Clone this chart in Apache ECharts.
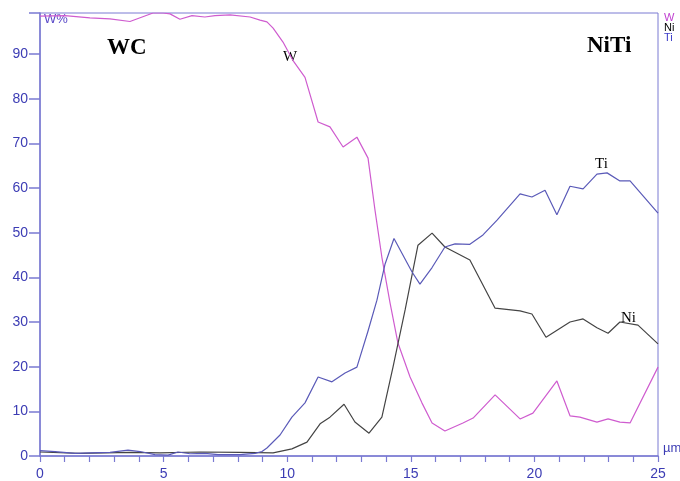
<!DOCTYPE html>
<html>
<head>
<meta charset="utf-8">
<script src="https://cdn.jsdelivr.net/npm/echarts@6/dist/echarts.min.js"></script>
<style>
html,body{margin:0;padding:0;background:#fff;}
#showView{width:680px;height:481px;}
</style>
</head>
<body>
<div id="showView"></div>
<script>
// line scan, position in um / weight %
var wX = [0,1.01,2.02,2.83,3.64,4.57,4.98,5.26,5.66,6.15,6.67,7.08,7.69,8.50,8.90,9.18,9.43,9.83,10.23,10.72,11.25,11.73,12.26,12.82,13.27,13.55,13.83,14.16,14.48,14.97,15.45,15.86,16.38,17.11,17.52,18.41,19.42,19.94,20.91,21.44,21.84,22.53,22.98,23.46,23.87,25];
var wVal = [98.5,98.6,98.1,97.9,97.3,99.2,99.2,99.0,97.8,98.6,98.3,98.6,98.8,98.3,97.6,97.2,95.8,92.7,88.6,84.8,74.8,73.7,69.2,71.4,66.7,55.1,44.5,34.3,25.3,17.7,11.9,7.4,5.6,7.4,8.5,13.7,8.3,9.6,16.8,9.0,8.7,7.6,8.3,7.6,7.4,19.9];
var niX = [0,1.62,3.64,4.85,6.47,8.09,9.43,10.19,10.80,11.33,11.73,12.30,12.74,13.31,13.83,14.28,14.77,15.29,15.86,16.38,17.39,18.41,19.42,19.90,20.47,21.44,21.97,22.53,22.98,23.46,24.19,25];
var niVal = [0.9,0.6,0.8,0.7,0.9,0.8,0.7,1.6,3.1,7.2,8.7,11.6,7.6,5.1,8.7,19.9,32.7,47.2,49.9,46.8,43.9,33.1,32.5,31.8,26.6,30.0,30.7,28.7,27.5,30.0,29.3,25.1];
var tiX = [0,0.61,1.42,2.02,2.83,3.56,4.05,4.65,5.18,5.58,6.07,6.67,7.20,8.09,8.70,8.98,9.18,9.71,10.19,10.72,11.25,11.81,12.34,12.82,13.27,13.63,13.96,14.32,15.05,15.37,15.86,16.38,16.79,17.39,17.92,18.49,19.42,19.90,20.43,20.91,21.44,21.97,22.53,22.94,23.46,23.87,25];
var tiVal = [1.2,1.0,0.6,0.7,0.8,1.3,1.0,0.3,0.2,0.9,0.5,0.6,0.3,0.3,0.6,1.0,1.8,4.7,8.7,11.9,17.7,16.6,18.6,19.9,28.0,34.9,43.0,48.7,41.2,38.5,42.2,46.8,47.5,47.4,49.5,52.8,58.7,58.0,59.5,54.0,60.4,59.8,63.1,63.4,61.6,61.6,54.4];
var xTicks = [0,5,10,15,20,25];
var yTicks = [0,10,20,30,40,50,60,70,80,90];

function pairs(xs,ys){
	var out = [];
	for(var i = 0 ; i < xs.length ; i++ ){
		out.push([xs[i],ys[i]]);
	}
	return out;
}

var axisColor = '#7a7ad2';
var labelColor = '#3c3cb4';
var labelFont = "'Liberation Sans Narrow','Liberation Sans',sans-serif";
var myChart = echarts.init(document.getElementById('showView'));
var option = {
	animation: false,
	grid: {left: 40, right: 22, top: 13, bottom: 25, show: true, borderColor: axisColor, borderWidth: 1},
	xAxis: {
		type: 'value', min: 0, max: 25, interval: 5,
		axisLine: {lineStyle: {color: axisColor, width: 1.5}},
		axisTick: {show: true, inside: false, length: 6, lineStyle: {color: axisColor, width: 1.2}},
		minorTick: {show: true, splitNumber: 5, length: 6, lineStyle: {color: axisColor, width: 1.2}},
		splitLine: {show: false},
		axisLabel: {color: labelColor, fontFamily: labelFont, fontSize: 14, margin: 11,
			formatter: function(v){ return xTicks.indexOf(v) >= 0 ? String(v) : ''; }}
	},
	yAxis: {
		type: 'value', min: 0, max: 99.2, interval: 10,
		axisLine: {show: true, lineStyle: {color: axisColor, width: 1.5}},
		axisTick: {show: true, inside: false, length: 11, lineStyle: {color: axisColor, width: 1.5}},
		splitLine: {show: false},
		axisLabel: {color: labelColor, fontFamily: labelFont, fontSize: 14, margin: 12,
			formatter: function(v){ return yTicks.indexOf(v) >= 0 ? String(v) : ''; }}
	},
	series: [
		{name: 'W', type: 'line', data: pairs(wX,wVal), showSymbol: false, lineStyle: {color: '#cf5ccf', width: 1.2}},
		{name: 'Ni', type: 'line', data: pairs(niX,niVal), showSymbol: false, lineStyle: {color: '#444444', width: 1.2}},
		{name: 'Ti', type: 'line', data: pairs(tiX,tiVal), showSymbol: false, lineStyle: {color: '#5a5ab8', width: 1.2}}
	],
	graphic: [
		{type: 'text', left: 44, top: 13, style: {text: 'W%', fill: '#5a4ac8', font: '13px Liberation Sans'}},
		{type: 'text', left: 107, top: 37, style: {text: 'WC', fill: '#000', font: 'bold 23px Liberation Serif'}},
		{type: 'text', left: 587, top: 35, style: {text: 'NiTi', fill: '#000', font: 'bold 23px Liberation Serif'}},
		{type: 'text', left: 283, top: 50, style: {text: 'W', fill: '#000', font: '15px Liberation Serif'}},
		{type: 'text', left: 595, top: 157, style: {text: 'Ti', fill: '#000', font: '15px Liberation Serif'}},
		{type: 'text', left: 621, top: 311, style: {text: 'Ni', fill: '#000', font: '15px Liberation Serif'}},
		{type: 'text', left: 664, top: 12, style: {text: 'W', fill: '#c040d0', font: '11px Liberation Sans'}},
		{type: 'text', left: 664, top: 22, style: {text: 'Ni', fill: '#000', font: '11px Liberation Sans'}},
		{type: 'text', left: 664, top: 32, style: {text: 'Ti', fill: '#3c3cc8', font: '11px Liberation Sans'}},
		{type: 'text', left: 663, top: 442, style: {text: 'µm', fill: '#3c3cb4', font: '13px Liberation Sans'}}
	]
};
myChart.setOption(option);
</script>
</body>
</html>
